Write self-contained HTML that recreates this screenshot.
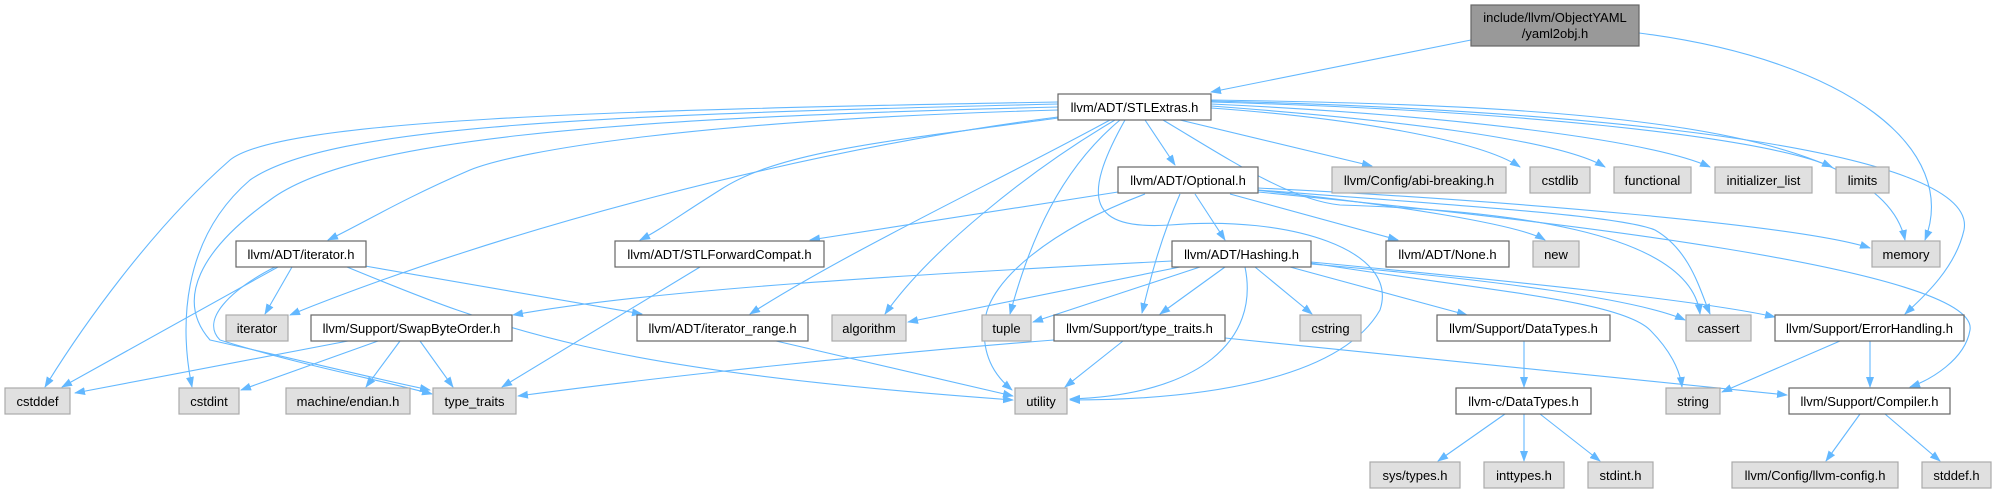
<!DOCTYPE html>
<html><head><meta charset="utf-8"><style>
html,body{margin:0;padding:0;background:#fff;}
svg{display:block;}
text{font-family:"Liberation Sans",Arial,sans-serif;font-size:13px;fill:#000;}
.e{fill:none;stroke:#63b8ff;stroke-width:1.1;marker-end:url(#a);}
.n{fill:#fff;stroke:#666;stroke-width:1.2;}
.g{fill:#e0e0e0;stroke:#aaa;stroke-width:1.2;}
</style></head><body>
<svg width="1993" height="493" viewBox="0 0 1993 493" xmlns="http://www.w3.org/2000/svg">
<defs><marker id="a" markerWidth="11" markerHeight="8" refX="10" refY="4" orient="auto" markerUnits="userSpaceOnUse"><path d="M0,0 L11,4 L0,8 z" fill="#63b8ff"/></marker></defs>
<!-- edges -->
<path class="e" d="M1471,40 L1211,92"/>
<path class="e" d="M1639,33 C1850,60 1960,150 1925,240"/>
<!-- STL edges -->
<path class="e" d="M1058,102 C600,110 280,120 230,160 C150,230 80,330 45,387"/>
<path class="e" d="M1058,104 C600,115 330,125 250,180 C180,240 180,330 192,387"/>
<path class="e" d="M1058,107 C600,118 350,140 270,200 C200,250 175,300 210,340 C300,360 380,380 430,390"/>
<path class="e" d="M1058,110 C700,120 520,150 470,170 C400,200 360,225 328,240"/>
<path class="e" d="M1058,117 C800,150 500,230 290,315"/>
<path class="e" d="M1058,118 C900,140 780,150 720,190 C680,215 660,230 640,240"/>
<path class="e" d="M1110,120 C1000,180 850,250 750,314"/>
<path class="e" d="M1115,120 C1030,170 930,250 885,314"/>
<path class="e" d="M1120,120 C1060,170 1030,240 1010,314"/>
<path class="e" d="M1125,120 C1080,200 1090,230 1170,225 C1290,215 1400,250 1380,310 C1340,380 1200,400 1070,400"/>
<path class="e" d="M1145,120 L1175,165"/>
<path class="e" d="M1180,120 L1372,166"/>
<path class="e" d="M1211,108 C1350,118 1480,140 1520,167"/>
<path class="e" d="M1211,106 C1400,120 1560,140 1605,167"/>
<path class="e" d="M1211,104 C1450,115 1650,140 1710,167"/>
<path class="e" d="M1211,102 C1500,110 1760,135 1832,167"/>
<path class="e" d="M1211,100 C1550,105 1880,120 1905,240"/>
<path class="e" d="M1211,101 C1600,110 1980,150 1964,230 C1955,270 1920,300 1905,314"/>
<path class="e" d="M1163,120 C1230,160 1290,200 1340,205 C1500,210 1690,230 1700,314"/>
<!-- Optional edges -->
<path class="e" d="M1118,192 C1000,210 900,225 810,240"/>
<path class="e" d="M1145,194 C1050,230 990,280 985,320 C980,360 1000,380 1012,390"/>
<path class="e" d="M1180,194 C1160,240 1150,280 1142,313"/>
<path class="e" d="M1195,194 L1225,240"/>
<path class="e" d="M1230,194 L1398,240"/>
<path class="e" d="M1255,190 C1400,205 1520,225 1545,240"/>
<path class="e" d="M1258,188 C1500,200 1800,225 1870,248"/>
<path class="e" d="M1258,190 C1450,205 1620,215 1655,230 C1690,250 1700,290 1710,314"/>
<path class="e" d="M1258,192 C1550,220 1980,270 1970,330 C1965,360 1930,380 1910,387"/>
<!-- Hashing edges -->
<path class="e" d="M1172,261 C900,275 650,290 513,315"/>
<path class="e" d="M1180,267 L908,322"/>
<path class="e" d="M1200,267 L1033,322"/>
<path class="e" d="M1225,267 L1160,314"/>
<path class="e" d="M1245,267 C1260,340 1200,395 1070,399"/>
<path class="e" d="M1255,267 L1312,314"/>
<path class="e" d="M1290,267 L1467,315"/>
<path class="e" d="M1311,264 C1500,280 1640,300 1685,320"/>
<path class="e" d="M1311,262 C1500,280 1700,300 1775,317"/>
<path class="e" d="M1311,263 C1480,290 1620,300 1650,330 C1670,350 1680,370 1682,387"/>
<!-- iterator.h edges -->
<path class="e" d="M292,267 L265,314"/>
<path class="e" d="M278,267 C200,310 120,355 62,387"/>
<path class="e" d="M275,267 C230,290 200,320 220,340 C300,365 380,380 432,394"/>
<path class="e" d="M365,266 L642,314"/>
<path class="e" d="M347,267 C500,330 600,370 1013,400"/>
<!-- STLFwd -> type_traits -->
<path class="e" d="M700,267 L502,387"/>
<!-- Swap edges -->
<path class="e" d="M348,341 L75,393"/>
<path class="e" d="M378,341 L241,390"/>
<path class="e" d="M400,341 L366,387"/>
<path class="e" d="M420,341 L453,387"/>
<!-- iter_range -> utility -->
<path class="e" d="M776,341 L1013,396"/>
<!-- type_traits.h edges -->
<path class="e" d="M1054,340 C800,360 600,385 518,396"/>
<path class="e" d="M1123,341 L1065,387"/>
<path class="e" d="M1225,338 L1787,395"/>
<!-- DataTypes -->
<path class="e" d="M1524,341 L1524,387"/>
<path class="e" d="M1505,414 L1438,461"/>
<path class="e" d="M1524,414 L1524,461"/>
<path class="e" d="M1540,414 L1600,461"/>
<!-- ErrorHandling -->
<path class="e" d="M1840,341 L1722,392"/>
<path class="e" d="M1870,341 L1870,387"/>
<!-- Compiler -->
<path class="e" d="M1860,414 L1826,461"/>
<path class="e" d="M1885,414 L1940,461"/>
<!-- nodes -->
<rect x="1471" y="5" width="168" height="41" fill="#999" stroke="#666" stroke-width="1.2"/>
<text x="1555" y="22" text-anchor="middle">include/llvm/ObjectYAML</text>
<text x="1555" y="38" text-anchor="middle">/yaml2obj.h</text>
<g>
<rect class="n" x="1058" y="94" width="153" height="26"/><text x="1134.5" y="112" text-anchor="middle">llvm/ADT/STLExtras.h</text>
<rect class="n" x="1118" y="167" width="140" height="26"/><text x="1188" y="185" text-anchor="middle">llvm/ADT/Optional.h</text>
<rect class="g" x="1332" y="167" width="174" height="26"/><text x="1419" y="185" text-anchor="middle">llvm/Config/abi-breaking.h</text>
<rect class="g" x="1530" y="167" width="60" height="26"/><text x="1560" y="185" text-anchor="middle">cstdlib</text>
<rect class="g" x="1614" y="167" width="77" height="26"/><text x="1652.5" y="185" text-anchor="middle">functional</text>
<rect class="g" x="1715" y="167" width="97" height="26"/><text x="1763.5" y="185" text-anchor="middle">initializer_list</text>
<rect class="g" x="1836" y="167" width="53" height="26"/><text x="1862.5" y="185" text-anchor="middle">limits</text>

<rect class="n" x="236" y="241" width="130" height="26"/><text x="301" y="259" text-anchor="middle">llvm/ADT/iterator.h</text>
<rect class="n" x="615" y="241" width="209" height="26"/><text x="719.5" y="259" text-anchor="middle">llvm/ADT/STLForwardCompat.h</text>
<rect class="n" x="1172" y="241" width="139" height="26"/><text x="1241.5" y="259" text-anchor="middle">llvm/ADT/Hashing.h</text>
<rect class="n" x="1386" y="241" width="123" height="26"/><text x="1447.5" y="259" text-anchor="middle">llvm/ADT/None.h</text>
<rect class="g" x="1533" y="241" width="46" height="26"/><text x="1556" y="259" text-anchor="middle">new</text>
<rect class="g" x="1872" y="241" width="68" height="26"/><text x="1906" y="259" text-anchor="middle">memory</text>

<rect class="g" x="226" y="315" width="62" height="26"/><text x="257" y="333" text-anchor="middle">iterator</text>
<rect class="n" x="311" y="315" width="201" height="26"/><text x="411.5" y="333" text-anchor="middle">llvm/Support/SwapByteOrder.h</text>
<rect class="n" x="637" y="315" width="171" height="26"/><text x="722.5" y="333" text-anchor="middle">llvm/ADT/iterator_range.h</text>
<rect class="g" x="832" y="315" width="74" height="26"/><text x="869" y="333" text-anchor="middle">algorithm</text>
<rect class="g" x="982" y="315" width="49" height="26"/><text x="1006.5" y="333" text-anchor="middle">tuple</text>
<rect class="n" x="1054" y="315" width="171" height="26"/><text x="1139.5" y="333" text-anchor="middle">llvm/Support/type_traits.h</text>
<rect class="g" x="1300" y="315" width="61" height="26"/><text x="1330.5" y="333" text-anchor="middle">cstring</text>
<rect class="n" x="1437" y="315" width="173" height="26"/><text x="1523.5" y="333" text-anchor="middle">llvm/Support/DataTypes.h</text>
<rect class="g" x="1686" y="315" width="65" height="26"/><text x="1718.5" y="333" text-anchor="middle">cassert</text>
<rect class="n" x="1775" y="315" width="189" height="26"/><text x="1869.5" y="333" text-anchor="middle">llvm/Support/ErrorHandling.h</text>

<rect class="g" x="5" y="388" width="65" height="26"/><text x="37.5" y="406" text-anchor="middle">cstddef</text>
<rect class="g" x="179" y="388" width="60" height="26"/><text x="209" y="406" text-anchor="middle">cstdint</text>
<rect class="g" x="286" y="388" width="124" height="26"/><text x="348" y="406" text-anchor="middle">machine/endian.h</text>
<rect class="g" x="433" y="388" width="83" height="26"/><text x="474.5" y="406" text-anchor="middle">type_traits</text>
<rect class="g" x="1015" y="388" width="52" height="26"/><text x="1041" y="406" text-anchor="middle">utility</text>
<rect class="n" x="1456" y="388" width="135" height="26"/><text x="1523.5" y="406" text-anchor="middle">llvm-c/DataTypes.h</text>
<rect class="g" x="1666" y="388" width="54" height="26"/><text x="1693" y="406" text-anchor="middle">string</text>
<rect class="n" x="1789" y="388" width="161" height="26"/><text x="1869.5" y="406" text-anchor="middle">llvm/Support/Compiler.h</text>

<rect class="g" x="1370" y="462" width="90" height="26"/><text x="1415" y="480" text-anchor="middle">sys/types.h</text>
<rect class="g" x="1484" y="462" width="80" height="26"/><text x="1524" y="480" text-anchor="middle">inttypes.h</text>
<rect class="g" x="1588" y="462" width="65" height="26"/><text x="1620.5" y="480" text-anchor="middle">stdint.h</text>
<rect class="g" x="1732" y="462" width="166" height="26"/><text x="1815" y="480" text-anchor="middle">llvm/Config/llvm-config.h</text>
<rect class="g" x="1922" y="462" width="69" height="26"/><text x="1956.5" y="480" text-anchor="middle">stddef.h</text>
</g>
</svg>
</body></html>
